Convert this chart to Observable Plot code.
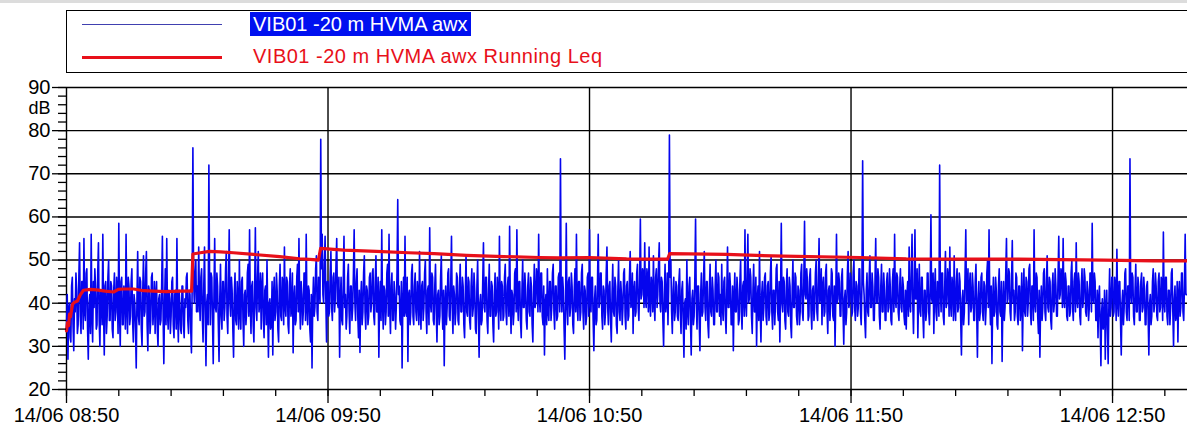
<!DOCTYPE html>
<html>
<head>
<meta charset="utf-8">
<script src="https://cdn.jsdelivr.net/npm/d3@7"></script>
<script src="https://cdn.jsdelivr.net/npm/@observablehq/plot@0.6"></script>
<style>
  html, body { margin: 0; padding: 0; background: #fff; }
  body { width: 1187px; height: 429px; overflow: hidden; font-family: 'Liberation Sans', Arial, sans-serif; }
  #legend { position: relative; width: 1187px; height: 80px; overflow: hidden; }
  #legend .band { position: absolute; left: 0; top: 0; width: 1187px; height: 3px; background: #dcdcdc; }
  #legend .box { position: absolute; left: 66px; top: 10px; width: 1140px; height: 61px; border: 1.5px solid #000; }
  #legend .swatch { position: absolute; left: 82px; width: 140px; }
  #legend .lab { position: absolute; font-size: 20px; line-height: 24px; white-space: nowrap; }
</style>
</head>
<body>
<div id="legend">
  <div class="band"></div>
  <div class="box"></div>
  <div class="swatch" id="sw0" style="top:24px;height:1px;background:#4040b0"></div>
  <div class="lab" id="lab0" style="left:250px;top:12px;padding:0 3px;background:#0010f0;color:#fff"></div>
  <div class="swatch" id="sw1" style="top:56px;height:3px;background:#e8101a"></div>
  <div class="lab" id="lab1" style="left:253px;top:44px;color:#e8101a;letter-spacing:0.5px"></div>
</div>
<div id="chart"></div>
<script>
// ---- Data ----
const seriesNames = ["VIB01 -20 m HVMA awx", "VIB01 -20 m HVMA awx Running Leq"];
const seriesColors = ["#0505ee", "#e8101a"];
const startTime = Date.UTC(2023, 5, 14, 8, 50, 0); // 14/06 08:50
const endMinutes = 257.2;
const blueStepSeconds = 10;
// awx level (dB), one value every 10 s from 08:50 (one line = 10 minutes)
const blueValues = [
34,42,27,39,40,32,31,44,46,35,29,41,38,47,43,33,35,46,54,37,33,45,45,34,55,38,36,47,48,34,27,40,42,33,56,37,31,45,39,48,44,34,35,47,54,36,30,43,41,35,56,38,28,44,45,33,37,46,50,36,
36,45,44,34,32,43,47,36,38,46,42,33,58.5,38,30,45,46,35,35,44,41,34,56,39,33,46,44,35,37,45,48,36,31,42,40,34,25,41,52,37,35,46,45,34,30,43,51,37,38,47,52,35,29,44,43,33,36,46,47,35,
39,45,33,42,45,34,30,41,42,35,36,44,55.5,37,26,40,48,35,55,38,34,43,41,33,37,45,46,35,32,42,43,34,55,37,31,43,40,34,33,44,44,35,32,41,39,46,47,36,33,43,42,34,28.5,44,76,45,40,47,50,38,
44,38,53,41,36,46,48,37,31,44,53,38,25.5,40,42,35,72,45,35,47,46,36,26,42,55,39,38,47,44,35,26.5,41,49,37,34,45,45,36,39,48,52,37,33,44,57,40,37,46,43,34,27.5,42,47,36,35,45,41,34,50,38,
34,45,46,36,30,42,43,35,38,47,49,37,57,40,33,44,45,35,31,43,57.5,39,36,46,52,38,40,47,34,44,47,36,32,43,44,35,50,38,27.5,40,41,34,35,45,28,42,46,36,38,47,43,34,31,44,49,37,36,46,45,35,
53,39,37,46,45,35,33,44,48,37,39,47,28.5,41,44,35,36,46,49,38,55,40,34,45,42,35,38,47,47,36,56,39,35,44,43,34,31,42,25,40,46,37,39,48,51,38,36,46,44,40,78,48,56,42,40,49,55.5,41,31,45,
45,37,38,47,52,39,36,46,47,38,41,49,55,40,39,46,27.5,41,46,36,35,45,55.5,39,42,34,37,46,49,38,33,44,44,36,39,47,57,40,36,45,48,37,32,43,28.6,41,45,35,38,47,51,38,34,44,43,35,37,46,47,38,
40,47,48,37,35,45,51,38,38,46,27.5,41,45,36,57,40,34,44,43,35,38,47,49,37,56,39,33,44,47,36,36,45,42,34,39,47,64,42,44,36,35,45,25,40,46,37,55.5,38,37,46,26.5,42,43,35,38,47,49,37,35,44,
47,38,36,45,42,35,52,39,34,44,45,36,39,47,50,38,33,43,44,35,57.5,40,38,47,46,36,35,44,49,38,31,42,43,35,37,46,51,39,34,43,25.5,40,44,35,39,47,48,37,36,45,55.5,39,33,44,42,35,38,47,46,36,
35,44,49,38,38,46,44,35,32,42,51,38,37,46,45,36,34,44,48,37,39,47,43,34,33,44,50,38,27.5,40,42,35,36,45,54,39,38,46,46,36,33,43,49,37,37,45,44,35,31,42,47,37,38,46,42,34,55.5,40,36,45,
44,36,37,46,49,38,35,44,46,37,57.8,40,33,43,42,35,38,47,48,38,57,40,36,45,45,36,32,43,50,39,39,47,43,36,34,44,47,38,37,46,44,35,31,42,49,39,40,48,46,38,56,41,38,47,47,37,35,44,28,40,
42,35,48,38,36,45,45,36,39,47,49,38,34,44,44,36,37,46,47,38,73.5,42,38,46,43,34,27,40,58.5,39,35,45,46,37,39,47,44,35,33,43,48,38,56,40,36,45,45,36,38,47,49,38,34,44,43,35,37,46,47,37,
57,40,38,46,46,36,29,41,44,35,36,45,56,39,40,47,47,37,34,44,43,35,38,47,53,39,35,44,45,36,31,42,49,38,37,46,44,35,33,43,50,38,36,45,42,35,39,47,48,37,34,44,45,36,37,46,52,39,40,47,
33,43,45,37,38,47,49,39,36,45,59.5,41,42,48,47,39,54,41,39,48,46,38,53,40,37,46,44,38,51,40,36,46,48,39,42,49,54,40,38,46,45,36,30,42,49,38,40,47,35,44,79,46,50,38,33,43,46,36,38,45,
44,37,36,45,48,38,33,43,45,36,27.5,40,41,34,50,38,35,44,46,36,28,41,43,35,37,46,59.5,40,34,44,44,36,29,42,47,37,38,46,52,39,36,45,45,35,32,43,49,38,37,46,43,35,35,44,50,38,38,47,46,37,
42,35,49,39,36,45,46,37,33,43,53,39,39,47,44,35,35,44,29,41,47,38,38,46,43,35,36,45,50,38,34,44,45,37,57,40,37,46,56,40,41,48,46,37,33,43,49,38,38,46,30,41,44,36,52,39,31,42,45,36,
39,46,47,37,35,44,45,36,38,47,51,38,34,43,43,35,40,48,49,38,36,45,31,42,58.5,40,38,46,45,36,34,44,48,38,37,46,44,35,32,43,50,39,39,47,46,37,35,44,43,35,38,47,49,38,36,45,59,42,41,48,
45,36,37,46,48,38,34,43,44,36,39,47,50,38,36,45,55,40,42,48,35,44,46,37,38,47,49,38,33,43,44,36,40,48,47,37,36,44,30,41,56,40,41,47,45,37,37,46,48,38,30.5,41,43,35,38,47,52,39,40,47,
46,37,38,47,50,39,36,45,44,37,39,48,48,38,35,44,73,45,42,36,32,43,47,38,37,46,51,39,39,47,44,36,36,45,55,40,40,48,46,37,34,44,49,38,38,47,43,36,36,45,47,38,39,48,44,36,35,45,48,38,
56,41,39,47,46,38,36,44,48,39,38,46,44,37,35,43,34,42,45,37,53,40,38,47,56,40,33,43,57,41,41,48,32,42,49,38,37,46,46,37,32,43,43,36,38,47,47,38,35,44,60.5,41,40,47,33,43,48,38,36,45,
44,37,72,43,38,47,47,37,35,44,52,39,40,48,46,37,53,40,37,46,44,36,51,39,36,45,48,38,39,47,45,36,28,41,43,35,38,47,57,40,42,48,35,44,47,38,39,47,44,36,36,45,49,38,27.5,41,45,36,38,46,
47,38,36,45,44,35,39,47,50,39,57,41,35,44,26,40,46,37,38,46,43,35,34,44,48,38,37,45,26.5,40,45,36,39,47,55,40,41,48,47,38,36,45,54.5,40,43,36,38,47,46,37,35,44,44,36,39,47,29,41,48,38,
37,46,45,37,40,48,49,38,35,44,44,36,57,40,38,47,46,37,33,43,27.5,40,44,36,39,47,48,38,36,45,51,39,38,46,45,36,34,44,47,38,40,48,44,37,37,46,55.5,41,42,48,47,39,55,41,39,47,45,37,36,44,
44,37,38,47,50,39,36,45,47,38,54,41,39,47,45,37,35,44,48,39,41,48,46,38,37,45,43,36,39,47,47,38,58.5,41,40,47,45,36,36,43,32,41,44,35,25.5,38,41,34,35,43,27,39,43,34,26,40,48,37,39,46,
46,37,38,46,44,36,52.5,40,37,45,45,36,28,40,43,35,39,47,48,38,36,44,44,36,73.5,42,40,47,46,37,35,43,49,38,38,46,44,36,36,45,47,38,39,46,43,35,35,44,45,37,28,40,42,35,37,45,48,38,40,47,
44,37,36,45,47,38,39,46,45,36,56.5,40,38,46,46,37,35,43,43,35,39,47,48,38,30,41,44,36,37,45,31,42,45,37,39,47,47,38,36,44,56,42,42
];
// Running Leq: minutes after 08:50 and level (dB)
const redMinutes = [0,0.25,0.5,0.7,0.9,1.4,1.8,2.5,3.2,3.9,5.5,6.9,8.9,10.8,11.9,13.1,15.4,17.7,20.0,22.9,26.2,28.7,29.0,30.7,32.8,35.3,38.3,42.9,48.9,53.5,56.7,57.8,58.3,63.6,71.1,78.5,84.4,91.8,100.3,108.5,113.1,120.0,128.5,137.0,137.9,138.4,151.4,164.5,182.0,192.7,218.4,238.0,249.4,257.2];
const redValues  = [33.6,35.5,34.8,37.5,36.8,39.8,40.2,40.5,42.0,43.0,43.2,43.1,42.8,42.6,43.2,43.3,43.3,42.9,42.8,42.7,42.8,42.8,51.4,51.7,52.0,51.9,51.7,51.3,50.8,50.3,50.1,50.0,52.7,52.3,52.0,51.7,51.5,51.1,50.8,50.6,50.5,50.6,50.3,50.2,50.2,51.5,51.3,50.9,50.6,50.3,50.2,50.0,49.8,49.8];
// Axis ticks
const xTickLabels = ["14/06 08:50", "14/06 09:50", "14/06 10:50", "14/06 11:50", "14/06 12:50"];
const xTickMinutes = [0, 60, 120, 180, 240];
const xMinorStep = 12;
const yTicks = [20, 30, 40, 50, 60, 70, 80, 90];
const yMinorStep = 2;
const yUnit = "dB";

// ---- Build ----
const toDate = m => new Date(startTime + m * 60000);
const blue = blueValues.map((v, i) => ({t: new Date(startTime + i * blueStepSeconds * 1000), v}));
const red = redMinutes.map((m, i) => ({t: toDate(m), v: redValues[i]}));
const majorDates = xTickMinutes.map(toDate);
const labelByTime = new Map(majorDates.map((d, i) => [+d, xTickLabels[i]]));
const minorDates = d3.range(0, endMinutes, xMinorStep).map(toDate);
const yMinor = d3.range(20, 90.1, yMinorStep);

document.getElementById("lab0").textContent = seriesNames[0];
document.getElementById("lab1").textContent = seriesNames[1];

const chart = Plot.plot({
  width: 1187,
  height: 349,
  marginTop: 7,
  marginBottom: 40,
  marginLeft: 66,
  marginRight: 0,
  style: {fontFamily: "'Liberation Sans', Arial, sans-serif", fontSize: "20px", color: "#000", background: "#fff", overflow: "visible"},
  x: {type: "utc", domain: [toDate(0), toDate(endMinutes)]},
  y: {domain: [20, 90]},
  marks: [
    Plot.gridY(yTicks, {stroke: "#000", strokeOpacity: 1, strokeWidth: 1.4}),
    Plot.gridX(majorDates, {stroke: "#000", strokeOpacity: 1, strokeWidth: 1.4}),
    Plot.line(blue, {x: "t", y: "v", stroke: seriesColors[0], strokeWidth: 1.6}),
    Plot.line(red, {x: "t", y: "v", stroke: seriesColors[1], strokeWidth: 3.2, curve: "linear"}),
    Plot.axisX(minorDates, {anchor: "bottom", tickSize: 7, text: null, strokeWidth: 1.3, label: null}),
    Plot.axisX(majorDates, {anchor: "bottom", tickSize: 14, tickPadding: 4, strokeWidth: 1.3, tickFormat: d => labelByTime.get(+d), label: null}),
    Plot.axisY(yMinor, {anchor: "left", tickSize: 8, text: null, strokeWidth: 1.3, label: null}),
    Plot.axisY(yTicks, {anchor: "left", tickSize: 14, tickPadding: 2, strokeWidth: 1.3, label: null}),
    Plot.text([yUnit], {text: d => d, frameAnchor: "top-left", dx: -16, dy: 21, lineAnchor: "middle", textAnchor: "end", fontSize: 18})
  ]
});
document.getElementById("chart").appendChild(chart);
</script>
</body>
</html>
